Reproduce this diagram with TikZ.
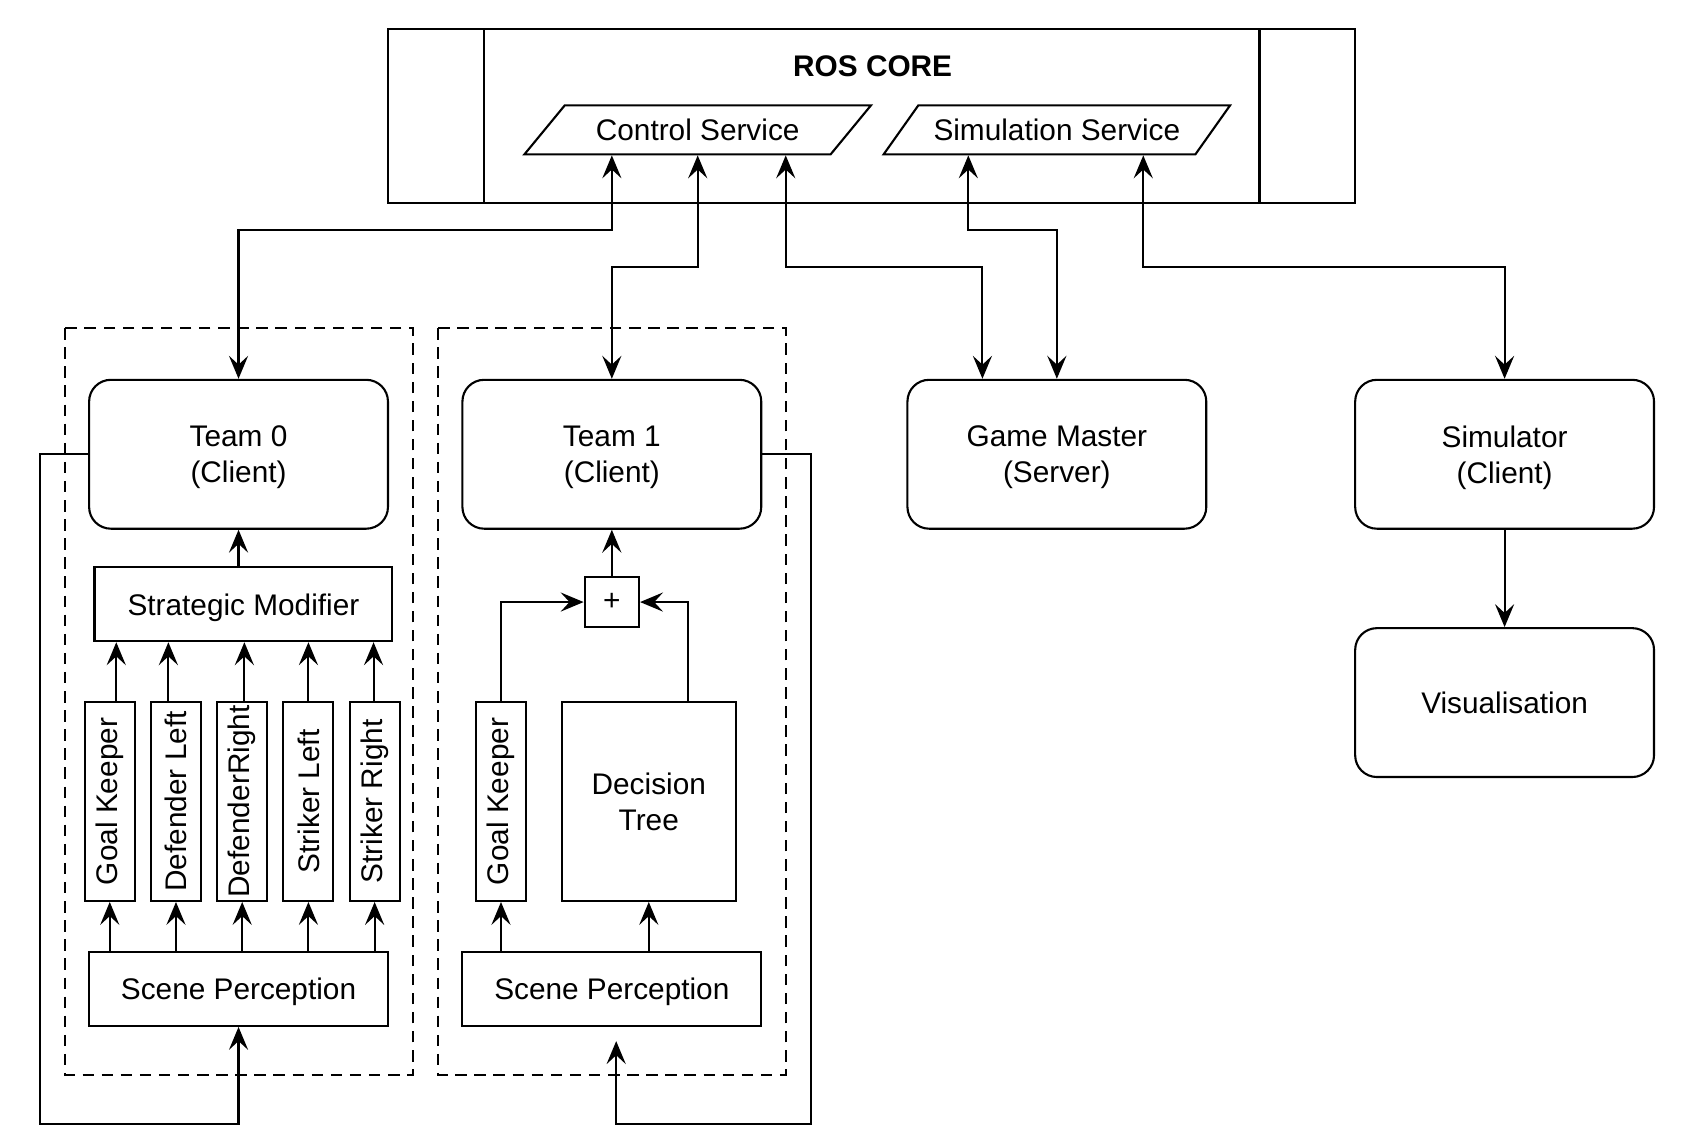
\documentclass[tikz,border=0pt]{standalone}
\usepackage{fontspec}
\setmainfont{Liberation Sans}
\usetikzlibrary{positioning,shapes.geometric,arrows.meta}

\begin{document}
\begin{tikzpicture}[
                line width=0.55pt,
                >={Stealth[length=6pt,width=5pt,inset=2.3pt]},
                every node/.style={font=\fontsize{7.8}{9.4}\selectfont, inner sep=0pt, text depth=0pt},
                client/.style={draw, rounded corners=0.2cm, minimum width=2.75cm, minimum height=1.37cm, align=center},
                box/.style={draw, minimum width=2.74cm, minimum height=0.68cm},
                role/.style={draw, minimum width=0.46cm, minimum height=1.83cm},
                service/.style={draw, trapezium, trapezium left angle=35, trapezium right angle=145,
                                trapezium stretches=true, minimum width=3.21cm, minimum height=0.45cm},
                group/.style={draw, dash pattern=on 3pt off 2pt}
                ]
                \useasboundingbox (0,0) rectangle (15.68,-10.51);

                % Define the nodes
                \node (ros) [draw, minimum width=8.90cm, minimum height=1.60cm] at (8.02,-1.07) {};
                \node (roslbl) at (8.03,-0.61) {\bfseries ROS CORE};
                \node (ctrl) [service] at (6.42,-1.195) {Control Service};
                \node (simsrv) [service] at (9.725,-1.195) {Simulation Service};

                \node (tm0) [client] at (2.195,-4.18) {Team 0\\(Client)};
                \node (tm1) [client] at (5.63,-4.18) {Team 1\\(Client)};
                \node (gm) [client] at (9.725,-4.18) {Game Master\\(Server)};
                \node (sim) [client] at (13.845,-4.18) {Simulator\\(Client)};
                \node (vis) [client] at (13.845,-6.465) {Visualisation};

                \node (strat) [box] at (2.24,-5.56) {Strategic Modifier};
                \node (gk0) [role] at (1.01,-7.375) {\rotatebox{90}{Goal Keeper}};
                \node (dl0) [role, right=0.13cm of gk0] {\rotatebox{90}{Defender Left}};
                \node (dr0) [role, right=0.13cm of dl0] {\rotatebox{90}{DefenderRight}};
                \node (sl0) [role, right=0.13cm of dr0] {\rotatebox{90}{Striker Left}};
                \node (sr0) [role, right=0.13cm of sl0] {\rotatebox{90}{Striker Right}};
                \node (scene0) [box, minimum width=2.75cm] at (2.195,-9.10) {Scene Perception};

                \node (plus) [draw, minimum width=0.50cm, minimum height=0.46cm] at (5.63,-5.54) {+};
                \node (gk1) [role] at (4.61,-7.375) {\rotatebox{90}{Goal Keeper}};
                \node (tree) [draw, minimum width=1.60cm, minimum height=1.83cm, align=center] at (5.97,-7.375) {Decision\\Tree};
                \node (scene1) [box, minimum width=2.75cm] at (5.63,-9.10) {Scene Perception};

                \coordinate (loop0) at (0.37,-10.34);
                \coordinate (loop1) at (7.46,-10.34);
                \coordinate (fb1) at (5.67,-9.58);

                % Frames
                \draw ([xshift=0.89cm]ros.north west) -- ([xshift=0.89cm]ros.south west);
                \draw ([xshift=-0.89cm]ros.north east) -- ([xshift=-0.89cm]ros.south east);
                \draw[group] (0.60,-3.02) rectangle (3.80,-9.89);
                \draw[group] (4.03,-3.02) rectangle (7.23,-9.89);

                % Draw the arrows
                \draw[<->] ([xshift=-0.79cm]ctrl.south) -- ++(0,-0.69) -| (tm0.north);
                \draw[<->] (ctrl.south) -- ++(0,-1.03) -| (tm1.north);
                \draw[<->] ([xshift=0.81cm]ctrl.south) -- ++(0,-1.03) -| ([xshift=-0.685cm]gm.north);
                \draw[<->] ([xshift=-0.815cm]simsrv.south) -- ++(0,-0.69) -| (gm.north);
                \draw[<->] ([xshift=0.795cm]simsrv.south) -- ++(0,-1.03) -| (sim.north);
                \draw[->] (sim) -- (vis);

                \draw[->] (tm0.south |- strat.north) -- (tm0.south);
                \foreach \r/\s in {gk0/0.06, dl0/-0.07, dr0/0.02, sl0/0, sr0/-0.01}
                    \draw[->] ([xshift=\s cm]\r.north) -- ([xshift=\s cm]\r.north |- strat.south);
                \foreach \r in {gk0,dl0,dr0,sl0,sr0}
                    \draw[->] (\r.south |- scene0.north) -- (\r.south);
                \draw[->] (tm0.west) -| (loop0) -| (scene0.south);

                \draw[->] (plus) -- (tm1.south);
                \draw[->] (gk1.north) |- (plus.west);
                \draw[->] ([xshift=0.36cm]tree.north) |- (plus.east);
                \draw[->] (gk1.south |- scene1.north) -- (gk1.south);
                \draw[->] (tree.south |- scene1.north) -- (tree.south);
                \draw[->] (tm1.east) -| (loop1) -| (fb1);
            \end{tikzpicture}
\end{document}
